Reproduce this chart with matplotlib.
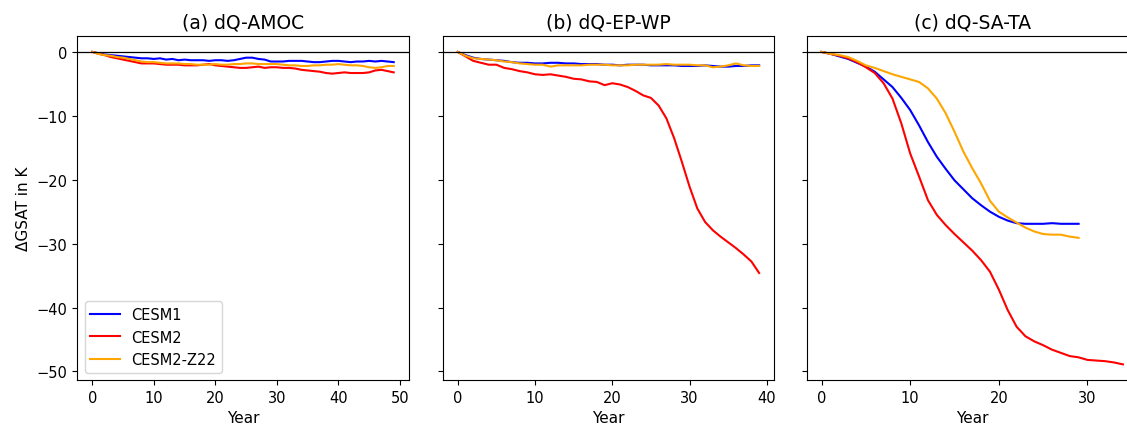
import numpy as np
import matplotlib
matplotlib.use('Agg')
from matplotlib import pyplot as plt

models = ['CESM1', 'CESM2', 'CESM2-Z22']
colors = ['blue', 'red', 'orange']
titles = ['(a) dQ-AMOC', '(b) dQ-EP-WP', '(c) dQ-SA-TA']

# (a) dQ-AMOC, years 0-49
amoc_cesm1 = [0, -0.2, -0.4, -0.5, -0.6, -0.7, -0.8, -0.9, -1.0, -1.0, -1.1, -1.0, -1.2, -1.1, -1.3,
              -1.2, -1.3, -1.3, -1.3, -1.4, -1.3, -1.3, -1.4, -1.3, -1.1, -0.9, -0.9, -1.1, -1.2, -1.5,
              -1.5, -1.5, -1.4, -1.4, -1.4, -1.5, -1.6, -1.6, -1.5, -1.4, -1.4, -1.5, -1.6, -1.5, -1.5,
              -1.4, -1.5, -1.4, -1.5, -1.6]
amoc_cesm2 = [0, -0.3, -0.5, -0.8, -1.0, -1.2, -1.4, -1.6, -1.8, -1.8, -1.8, -1.9, -2.0, -2.0, -2.0,
              -2.1, -2.1, -2.1, -2.0, -1.9, -2.1, -2.2, -2.3, -2.4, -2.5, -2.5, -2.4, -2.3, -2.5, -2.4,
              -2.4, -2.5, -2.5, -2.6, -2.8, -2.9, -3.0, -3.1, -3.3, -3.4, -3.3, -3.2, -3.3, -3.3, -3.3,
              -3.2, -2.9, -2.8, -3.0, -3.2]
amoc_z22 = [0, -0.3, -0.5, -0.6, -0.8, -0.9, -1.1, -1.3, -1.5, -1.6, -1.6, -1.7, -1.8, -1.8, -1.8,
            -1.9, -1.9, -2.0, -2.0, -2.0, -1.9, -2.0, -2.0, -1.9, -1.9, -1.8, -1.8, -1.9, -1.9, -1.9,
            -1.9, -2.0, -2.1, -2.1, -2.2, -2.2, -2.1, -2.1, -2.0, -2.0, -1.9, -2.0, -2.1, -2.1, -2.2,
            -2.4, -2.5, -2.4, -2.2, -2.2]

# (b) dQ-EP-WP, years 0-39
epwp_cesm1 = [0, -0.5, -0.9, -1.1, -1.2, -1.3, -1.4, -1.6, -1.7, -1.7, -1.8, -1.8, -1.7, -1.7, -1.8,
              -1.8, -1.9, -1.9, -1.9, -2.0, -2.0, -2.1, -2.0, -2.0, -2.0, -2.1, -2.1, -2.1, -2.1, -2.2,
              -2.2, -2.2, -2.1, -2.2, -2.3, -2.3, -2.2, -2.2, -2.1, -2.1]
epwp_cesm2 = [0, -0.7, -1.4, -1.7, -2.0, -2.0, -2.5, -2.7, -3.0, -3.2, -3.5, -3.6, -3.5, -3.7, -3.9,
              -4.2, -4.3, -4.6, -4.7, -5.2, -4.9, -5.1, -5.5, -6.1, -6.8, -7.2, -8.4, -10.4, -13.5, -17.2,
              -21.1, -24.5, -26.6, -27.9, -28.9, -29.8, -30.7, -31.7, -32.8, -34.6]
epwp_z22 = [0, -0.6, -1.0, -1.1, -1.2, -1.3, -1.5, -1.6, -1.8, -1.9, -2.0, -2.0, -2.3, -2.1, -2.1,
            -2.1, -2.1, -2.0, -2.0, -2.0, -2.1, -2.1, -2.1, -2.0, -2.0, -2.0, -2.0, -1.9, -2.0, -2.0,
            -2.0, -2.1, -2.1, -2.4, -2.3, -2.1, -1.8, -2.1, -2.2, -2.2]

# (c) dQ-SA-TA
sata_cesm1 = [0, -0.3, -0.7, -1.1, -1.7, -2.3, -3.1, -4.3, -5.5, -7.2, -9.1, -11.5, -14.1, -16.4, -18.3,
              -20.1, -21.5, -22.9, -24.0, -25.0, -25.8, -26.4, -26.8, -26.9, -26.9, -26.9, -26.8, -26.9, -26.9, -26.9]
sata_cesm2 = [0, -0.3, -0.6, -1.0, -1.6, -2.4, -3.3, -4.9, -7.3, -11.2, -15.9, -19.5, -23.2, -25.5, -27.1,
              -28.5, -29.8, -31.1, -32.6, -34.4, -37.2, -40.4, -43.0, -44.5, -45.3, -45.9, -46.6, -47.1, -47.6, -47.8,
              -48.2, -48.3, -48.4, -48.6, -48.9]
sata_z22 = [0, -0.3, -0.5, -0.8, -1.4, -2.1, -2.5, -3.0, -3.5, -3.9, -4.3, -4.7, -5.7, -7.3, -9.6,
            -12.5, -15.6, -18.2, -20.6, -23.3, -25.0, -25.9, -26.7, -27.5, -28.1, -28.5, -28.6, -28.6, -28.9, -29.1]

panels = [(amoc_cesm1, amoc_cesm2, amoc_z22),
          (epwp_cesm1, epwp_cesm2, epwp_z22),
          (sata_cesm1, sata_cesm2, sata_z22)]

fig = plt.figure(figsize=(11.27, 4.27), dpi=100)
W, H = 1127., 427.
bot = 1 - 381/H
hgt = (381 - 37.3)/H
lefts = [77.3, 442.7, 806.5]
wid = 331.5/W
axes = []
for i, l in enumerate(lefts):
    if i == 0:
        ax = fig.add_axes([l/W, bot, wid, hgt])
    else:
        ax = fig.add_axes([l/W, bot, wid, hgt], sharey=axes[0])
        plt.setp(ax.get_yticklabels(), visible=False)
    axes.append(ax)

for ax, title, series in zip(axes, titles, panels):
    for vals, c, m in zip(series, colors, models):
        ax.plot(np.arange(len(vals)), vals, color=c, lw=1.5, label=m)
    ax.axhline(0, color='black', lw=0.9)
    ax.set_title(title, fontsize=13.5)
    ax.set_xlabel('Year', fontsize=11)
    ax.tick_params(labelsize=10.5)

axes[0].set_ylabel('\u0394GSAT in K', fontsize=11)
axes[0].set_yticks([0, -10, -20, -30, -40, -50])
axes[0].legend(loc='lower left', fontsize=10.5)

plt.savefig('out.png', dpi=100)
